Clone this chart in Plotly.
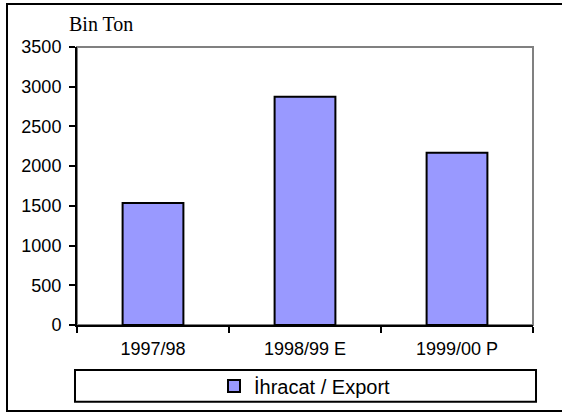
import plotly.graph_objects as go

seasons = ["1997/98", "1998/99 E", "1999/00 P"]
export_values = [1535, 2875, 2170]
series_name = "İhracat / Export"
unit_label = "Bin Ton"

fig = go.Figure()
fig.add_trace(go.Bar(
    x=seasons, y=export_values, name=series_name, width=0.4,
    marker=dict(color="#9999FF", line=dict(color="black", width=2)),
))

sans = "Liberation Sans, Arial, sans-serif"

fig.update_layout(
    width=562, height=414,
    margin=dict(l=77, r=29, t=47, b=89, autoexpand=False),
    paper_bgcolor="white", plot_bgcolor="white",
    font=dict(family=sans, size=18, color="black"),
    showlegend=True,
    legend=dict(orientation="h", x=0.5, xanchor="center", y=-0.219, yanchor="middle",
                font=dict(size=20), bgcolor="rgba(0,0,0,0)"),
    shapes=[
        # outer frame (right edge runs off the picture)
        dict(type="rect", xref="paper", yref="paper", x0=-0.1535, x1=1.2, y0=-0.309, y1=1.1547,
             line=dict(color="black", width=2), layer="below"),
        # plot area frame (grey top/right)
        dict(type="rect", xref="paper", yref="paper", x0=0, x1=1, y0=0, y1=1,
             line=dict(color="#808080", width=2), layer="below"),
        # legend box
        dict(type="rect", xref="paper", yref="paper", x0=-0.0044, x1=1.0066, y0=-0.2759, y1=-0.1619,
             line=dict(color="black", width=2), layer="below"),
    ],
    annotations=[
        dict(text=unit_label, xref="paper", yref="paper", x=0.0526, y=1.083,
             xanchor="center", yanchor="middle", showarrow=False,
             font=dict(family="Liberation Serif, Times New Roman, serif", size=20)),
    ],
)

fig.update_xaxes(
    showline=True, linecolor="black", linewidth=2,
    ticks="outside", ticklen=6, tickwidth=2, tickcolor="black",
    tickson="boundaries", showgrid=False, ticklabelstandoff=6,
)
fig.update_yaxes(
    range=[0, 3500], dtick=500, showline=True, linecolor="black", linewidth=2,
    ticks="outside", ticklen=6, tickwidth=2, tickcolor="black",
    showgrid=False, zeroline=False, ticklabelstandoff=4,
)

fig.write_html("out.html", config={"displayModeBar": False},
               post_script="document.body.style.margin='0';document.body.style.overflow='hidden';")
